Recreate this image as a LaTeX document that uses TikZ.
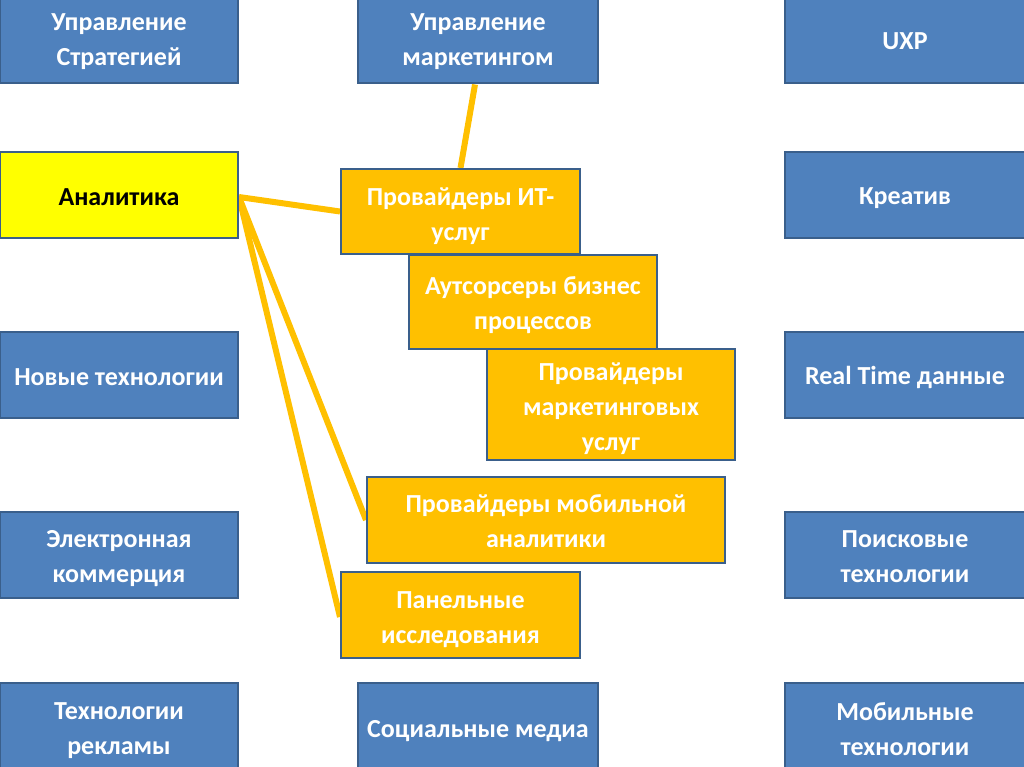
\documentclass[tikz,border=0pt]{standalone}
\usepackage{fontspec}
\setmainfont{Carlito}
\usetikzlibrary{backgrounds}
\definecolor{bfill}{HTML}{4F81BD}
\definecolor{bdraw}{HTML}{3A5F8B}
\definecolor{ofill}{HTML}{FFC000}
\definecolor{yfill}{HTML}{FFFF00}
% #1 style, #2 name, #3 cx, #4 cy, #5 width, #6 height, #7 text shift (down), #8 text
\newcommand\diabox[8]{%
  \node[#1, minimum width=#5pt, minimum height=#6pt] (#2) at (#3,#4) {};
  \node[txt, #1text] (#2-t) at ([yshift=-#7pt]#2.center) {#8};}
\begin{document}
\begin{tikzpicture}[x=1pt,y=-1pt,
  box/.style={draw=bdraw, line width=2pt, inner sep=0pt},
  txt/.style={inner sep=0pt, align=center, font=\fontsize{26}{35}\selectfont\bfseries},
  bluebox/.style={box, fill=bfill},
  orbox/.style={box, fill=ofill},
  ylbox/.style={box, fill=yfill},
  blueboxtext/.style={text=white},
  orboxtext/.style={text=white},
  ylboxtext/.style={text=black},
  conn/.style={draw=ofill, line width=6pt}]
\clip (0,0) rectangle (1024,767);
% left column
\diabox{bluebox}{strat}{119}{38.5}{238}{90}{3}{Управление\\Стратегией}
\diabox{ylbox}{ana}{119}{195}{238}{86}{2}{Аналитика}
\diabox{bluebox}{newt}{119}{375}{238}{86}{2}{Новые технологии}
\diabox{bluebox}{ecom}{119}{555}{238}{86}{4}{Электронная\\коммерция}
\diabox{bluebox}{adv}{119}{728}{238}{90}{3}{Технологии\\рекламы}
% middle column
\diabox{bluebox}{mkt}{478}{38.5}{240}{90}{3}{Управление\\маркетингом}
\diabox{bluebox}{soc}{478}{728}{240}{90}{3}{Социальные медиа}
% right column
\diabox{bluebox}{uxp}{905}{38.5}{240}{90}{3}{UXP}
\diabox{bluebox}{kre}{905}{195}{240}{86}{3}{Креатив}
\diabox{bluebox}{rt}{905}{375}{240}{86}{2}{Real Time данные}
\diabox{bluebox}{srch}{905}{555}{240}{86}{2}{Поисковые\\технологии}
\diabox{bluebox}{mobt}{905}{728}{240}{90}{1}{Мобильные\\технологии}
% orange boxes
\diabox{orbox}{it}{460.5}{211.5}{239}{85}{5}{Провайдеры ИТ-\\услуг}
\diabox{orbox}{bpo}{533}{302}{248}{94}{3}{Аутсорсеры бизнес\\процессов}
\diabox{orbox}{mserv}{611}{404.5}{248}{111}{4}{Провайдеры\\маркетинговых\\услуг}
\diabox{orbox}{mob}{546}{520}{358}{86}{1.5}{Провайдеры мобильной\\аналитики}
\diabox{orbox}{pan}{460.5}{615}{239}{86}{5}{Панельные\\исследования}
% connectors
\begin{scope}[on background layer]
\fill[white] (0,0) rectangle (1024,767);
\draw[conn] ([xshift=-3pt]mkt.south) -- (it.north);
\draw[conn] ([yshift=-2pt]ana.east) -- (it.west);
\draw[conn] ([yshift=-2pt]ana.east) -- (mob.west);
\draw[conn] ([yshift=-2pt]ana.east) -- ([yshift=-2pt]pan.west);
\end{scope}
\end{tikzpicture}
\end{document}
